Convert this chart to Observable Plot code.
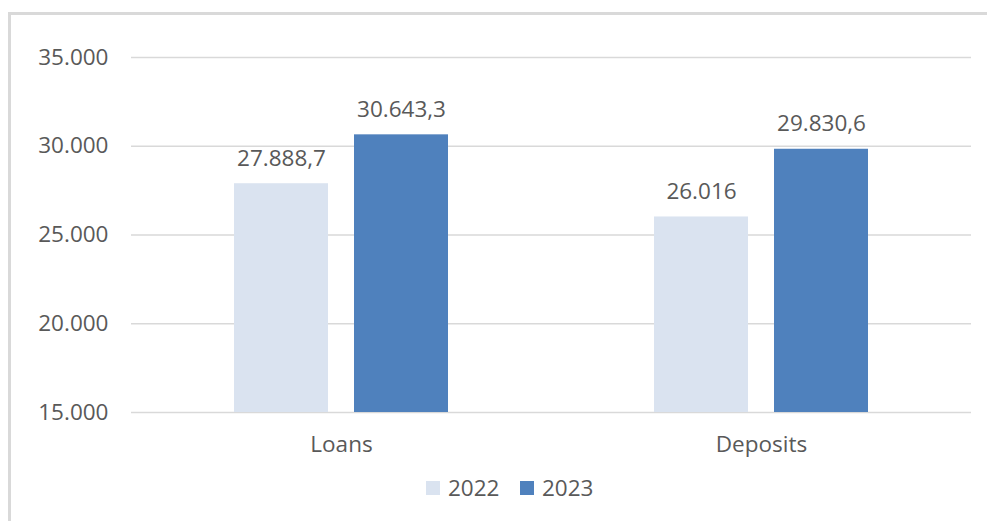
<!DOCTYPE html>
<html><head><meta charset="utf-8">
<script src="https://cdn.jsdelivr.net/npm/d3@7"></script>
<script src="https://cdn.jsdelivr.net/npm/@observablehq/plot@0.6"></script>
<style>
body{margin:0;background:#fff;font-family:"Open Sans",sans-serif;}
#wrap{position:relative;width:987px;height:521px;overflow:hidden;background:#fff;}
#frame{position:absolute;left:8px;top:12px;width:1000px;height:600px;border-left:3px solid #d9d9d9;border-top:3px solid #d9d9d9;}
#chart{position:absolute;left:0;top:0;}
#legend{position:absolute;top:474px;left:0;width:987px;height:28px;font-size:22.5px;color:#595959;}
.sw{position:absolute;width:14px;height:14px;top:7px;}
.lt{position:absolute;top:-3px;line-height:34px;}
</style>
</head><body>
<div id="wrap"><div id="frame"></div><div id="chart"></div><div id="legend"></div></div>
<script>
const categories = ["Loans", "Deposits"];
const years = ["2022", "2023"];
const values2022 = [27888.7, 26016];
const values2023 = [30643.3, 29830.6];
const yTicks = [15000, 20000, 25000, 30000, 35000];
const colors = ["#dae3f0", "#4f81bd"];

const loc = d3.formatLocale({decimal: ",", thousands: ".", grouping: [3], currency: ["", ""]});
const fmtTick = loc.format(",.0f");
const fmtVal = loc.format(",~f");

const data = [];
categories.forEach((c, i) => {
  data.push({category: c, year: years[0], value: values2022[i]});
  data.push({category: c, year: years[1], value: values2023[i]});
});

const chart = Plot.plot({
  width: 987, height: 470,
  marginLeft: 131, marginRight: 16, marginTop: 57, marginBottom: 58,
  style: {fontFamily: "'Open Sans', sans-serif", fontSize: "22.5px", color: "#595959", background: "transparent"},
  fx: {domain: categories, padding: 0, label: null},
  x: {domain: years, paddingInner: 0.2167, paddingOuter: 0.858, axis: null},
  y: {domain: [15000, 35000], label: null},
  color: {domain: years, range: colors},
  marks: [
    Plot.ruleY(yTicks, {stroke: "#d9d9d9", strokeWidth: 1.5}),
    Plot.axisY({ticks: yTicks, tickSize: 0, tickPadding: 23, tickFormat: fmtTick, label: null, fill: "#595959"}),
    Plot.axisFx({anchor: "bottom", tickSize: 0, tickPadding: 24, label: null, fill: "#595959"}),
    Plot.barY(data, {fx: "category", x: "year", y1: 15000, y2: "value", fill: "year"}),
    Plot.text(data, {fx: "category", x: "year", y: "value", text: d => fmtVal(d.value), dy: -25, lineAnchor: "middle", fill: "#595959"})
  ]
});
document.getElementById("chart").appendChild(chart);

const legend = document.getElementById("legend");
const pos = [[426, 448], [520, 542]];
years.forEach((y, i) => {
  const s = document.createElement("div");
  s.className = "sw"; s.style.left = pos[i][0] + "px"; s.style.background = colors[i];
  const t = document.createElement("div");
  t.className = "lt"; t.style.left = pos[i][1] + "px"; t.textContent = y;
  legend.appendChild(s); legend.appendChild(t);
});
</script>
</body></html>
